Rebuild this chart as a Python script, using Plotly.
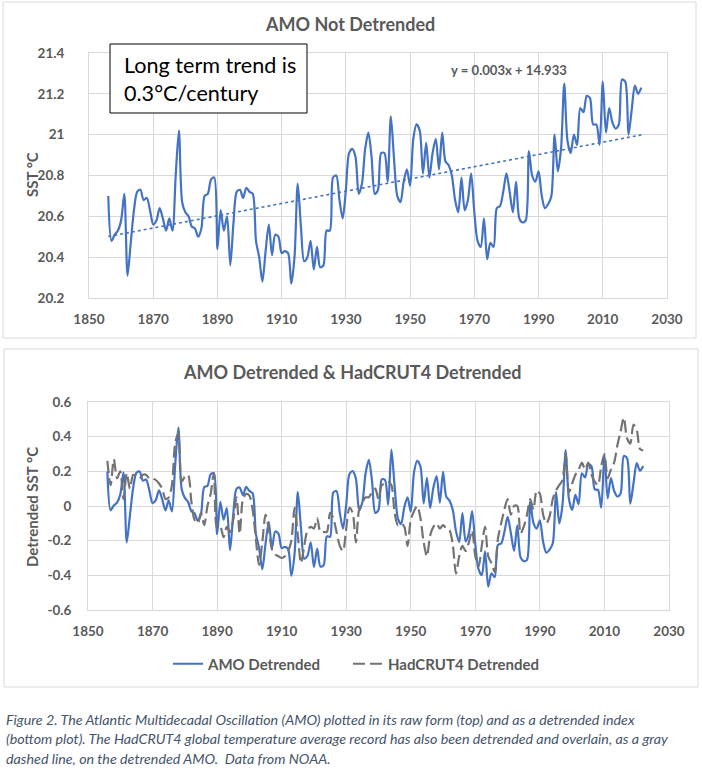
import plotly.graph_objects as go

W, H = 702, 772

# ---------------- data ----------------
years = list(range(1856, 2023))

amo_raw = [
    20.70, 20.48, 20.51, 20.53, 20.58, 20.71, 20.31, 20.47, 20.63, 20.72,  # 1856-1865
    20.73, 20.68, 20.69, 20.63, 20.56, 20.58, 20.64, 20.59, 20.53, 20.59,  # 1866-1875
    20.53, 20.80, 21.02, 20.67, 20.62, 20.60, 20.55, 20.54, 20.50, 20.54,  # 1876-1885
    20.70, 20.71, 20.78, 20.79, 20.44, 20.63, 20.53, 20.60, 20.36, 20.57,  # 1886-1895
    20.72, 20.73, 20.69, 20.74, 20.72, 20.71, 20.48, 20.40, 20.28, 20.43,  # 1896-1905
    20.56, 20.41, 20.51, 20.50, 20.42, 20.43, 20.42, 20.27, 20.40, 20.76,  # 1906-1915
    20.55, 20.38, 20.40, 20.48, 20.34, 20.45, 20.35, 20.36, 20.53, 20.53,  # 1916-1925
    20.79, 20.80, 20.68, 20.59, 20.73, 20.91, 20.93, 20.89, 20.71, 20.76,  # 1926-1935
    20.93, 21.01, 20.89, 20.71, 20.73, 20.91, 20.91, 20.77, 21.09, 20.88,  # 1936-1945
    20.70, 20.67, 20.77, 20.83, 20.75, 20.98, 21.05, 21.02, 20.81, 20.96,  # 1946-1955
    20.79, 20.91, 20.98, 20.83, 21.01, 20.87, 20.85, 20.80, 20.68, 20.62,  # 1956-1965
    20.79, 20.63, 20.68, 20.81, 20.62, 20.48, 20.45, 20.59, 20.39, 20.47,  # 1966-1975
    20.45, 20.64, 20.65, 20.72, 20.81, 20.72, 20.62, 20.77, 20.59, 20.57,  # 1976-1985
    20.58, 20.92, 20.80, 20.77, 20.82, 20.70, 20.64, 20.66, 20.70, 21.00,  # 1986-1995
    20.82, 20.93, 21.25, 20.97, 20.91, 21.00, 20.95, 21.13, 21.11, 21.19,  # 1996-2005
    21.18, 21.05, 21.05, 20.95, 21.26, 21.01, 21.13, 21.06, 21.03, 21.05,  # 2006-2015
    21.27, 21.26, 21.00, 21.12, 21.24, 21.20, 21.23,                       # 2016-2022
]

hadcrut_detrended = [
    0.26, 0.12, 0.27, 0.16, 0.20, 0.04, 0.19, 0.10, 0.18, 0.17,  # 1856-1865
    0.16, 0.18, 0.18, 0.16, 0.16, 0.15, 0.13, 0.10, 0.04, 0.05,  # 1866-1875
    0.12, 0.36, 0.42, 0.14, 0.17, 0.18, 0.03, -0.08, -0.10, -0.04,  # 1876-1885
    -0.11, 0.00, 0.07, 0.19, -0.13, -0.12, -0.18, -0.12, -0.15, -0.08,  # 1886-1895
    0.05, -0.16, 0.04, 0.07, 0.06, -0.02, -0.19, -0.34, -0.21, -0.05,  # 1896-1905
    -0.13, -0.25, -0.28, -0.29, -0.30, -0.29, -0.26, -0.20, -0.01, -0.17,  # 1906-1915
    -0.33, -0.23, -0.14, -0.12, -0.13, -0.07, -0.15, -0.15, -0.15, -0.04,  # 1916-1925
    -0.07, -0.15, -0.23, -0.26, -0.13, -0.01, -0.04, -0.21, -0.02, 0.02,  # 1926-1935
    0.05, 0.05, 0.08, 0.10, 0.04, 0.12, 0.13, 0.14, 0.12, -0.04,  # 1936-1945
    -0.11, -0.10, -0.12, -0.23, -0.08, -0.03, 0.00, -0.07, -0.21, -0.29,  # 1946-1955
    -0.17, -0.12, -0.10, -0.13, -0.11, -0.13, -0.14, -0.22, -0.39, -0.29,  # 1956-1965
    -0.23, -0.26, -0.21, -0.14, -0.29, -0.35, -0.23, -0.12, -0.29, -0.33,  # 1966-1975
    -0.38, -0.19, -0.10, -0.02, 0.04, -0.05, 0.00, 0.00, -0.16, -0.12,  # 1976-1985
    -0.05, 0.04, -0.02, 0.09, 0.07, -0.05, -0.10, -0.06, 0.04, 0.09,  # 1986-1995
    0.12, 0.15, 0.30, 0.08, 0.13, 0.18, 0.21, 0.25, 0.21, 0.25,  # 1996-2005
    0.18, 0.14, 0.12, 0.23, 0.30, 0.16, 0.21, 0.25, 0.35, 0.43,  # 2006-2015
    0.51, 0.39, 0.36, 0.47, 0.44, 0.33, 0.32,                    # 2016-2022
]

# trend shown in the chart: y = 0.003x + 14.933
trend_slope = 0.003
trend_intercept = 14.933
trend_years = [years[0], years[-1]]
trend_values = [trend_slope * y + trend_intercept for y in trend_years]
amo_detrended = [v - (trend_slope * y + trend_intercept) for y, v in zip(years, amo_raw)]

x_ticks = [1850, 1870, 1890, 1910, 1930, 1950, 1970, 1990, 2010, 2030]
top_y_ticks = [20.2, 20.4, 20.6, 20.8, 21.0, 21.2, 21.4]
bot_y_ticks = [-0.6, -0.4, -0.2, 0.0, 0.2, 0.4, 0.6]
bot_y_ticktext = ["-0.6", "-0.4", "-0.2", "0", "0.2", "0.4", "0.6"]

top_title = "AMO Not Detrended"
bot_title = "AMO Detrended & HadCRUT4 Detrended"
box_text = "Long term trend is<br>0.3°C/century"
eq_text = "y = 0.003x + 14.933"
caption_lines = [
    "Figure 2. The Atlantic Multidecadal Oscillation (AMO) plotted in its raw form (top) and as a detrended index",
    "(bottom plot). The HadCRUT4 global temperature average record has also been detrended and overlain, as a gray",
    "dashed line, on the detrended AMO.  Data from NOAA.",
]

# ---------------- style ----------------
BLUE = "#4472C4"
GRAYLINE = "#737373"
TXT = "#595959"
GRID = "#D9D9D9"
FONT = "Lato"


def px(x):
    return x / W


def py(y):
    return 1 - y / H


fig = go.Figure()

fig.add_trace(go.Scatter(
    x=years, y=amo_raw, mode="lines", xaxis="x", yaxis="y",
    line=dict(color=BLUE, width=2.2, shape="spline", smoothing=0.8),
    showlegend=False, name="AMO"))
fig.add_trace(go.Scatter(
    x=trend_years, y=trend_values, mode="lines", xaxis="x", yaxis="y",
    line=dict(color=BLUE, width=1.6, dash="dot"),
    showlegend=False, name="Trend"))

fig.add_trace(go.Scatter(
    x=years, y=amo_detrended, mode="lines", xaxis="x2", yaxis="y2",
    line=dict(color=BLUE, width=2.2, shape="spline", smoothing=0.8),
    name="AMO Detrended", legend="legend"))
fig.add_trace(go.Scatter(
    x=years, y=hadcrut_detrended, mode="lines", xaxis="x2", yaxis="y2",
    line=dict(color=GRAYLINE, width=2.2, shape="spline", smoothing=0.8, dash="12px,5px"),
    name="HadCRUT4 Detrended", legend="legend2"))

tickfont = dict(family=FONT, size=13.5, color=TXT, weight="bold")
axis_common = dict(showgrid=True, gridcolor=GRID, gridwidth=1, zeroline=False,
                   showline=True, linecolor=GRID, linewidth=1, mirror=True,
                   ticks="", tickfont=tickfont, automargin=False)

legend_font = dict(family=FONT, size=15, color=TXT, weight="bold")

fig.update_layout(
    width=W, height=H,
    margin=dict(l=0, r=0, t=0, b=0, pad=0, autoexpand=False),
    paper_bgcolor="white", plot_bgcolor="white",
    font=dict(family=FONT, color=TXT),
    xaxis=dict(domain=[px(89), px(667)], range=[1850, 2030], tickvals=x_ticks,
               anchor="y", ticklabelstandoff=9, **axis_common),
    yaxis=dict(domain=[py(298), py(53)], range=[20.2, 21.4], tickvals=top_y_ticks,
               anchor="x", ticklabelstandoff=21, **axis_common),
    xaxis2=dict(domain=[px(88), px(669)], range=[1850, 2030], tickvals=x_ticks,
                anchor="y2", ticklabelstandoff=9, **axis_common),
    yaxis2=dict(domain=[py(610), py(402)], range=[-0.6, 0.6], tickvals=bot_y_ticks,
                ticktext=bot_y_ticktext, anchor="x2", ticklabelstandoff=13, **axis_common),
    legend=dict(orientation="h", x=px(168), xanchor="left", y=py(664), yanchor="middle",
                font=legend_font, bgcolor="rgba(0,0,0,0)", itemwidth=30),
    legend2=dict(orientation="h", x=px(348), xanchor="left", y=py(664), yanchor="middle",
                 font=legend_font, bgcolor="rgba(0,0,0,0)", itemwidth=30),
)

shapes = [
    dict(type="rect", xref="paper", yref="paper", x0=px(3), x1=px(696), y0=py(338), y1=py(2),
         line=dict(color=GRID, width=1), fillcolor="rgba(0,0,0,0)", layer="below"),
    dict(type="rect", xref="paper", yref="paper", x0=px(4), x1=px(698), y0=py(687), y1=py(349),
         line=dict(color=GRID, width=1), fillcolor="rgba(0,0,0,0)", layer="below"),
    # text box frame of the top chart
    dict(type="rect", xref="paper", yref="paper", x0=px(110), x1=px(307), y0=py(113), y1=py(44),
         line=dict(color="black", width=1), fillcolor="white", layer="above"),
]
fig.update_layout(shapes=shapes)

ann = []
ann.append(dict(text=f"<b>{top_title}</b>", x=px(350), y=py(24), xref="paper", yref="paper",
                showarrow=False, xanchor="center", yanchor="middle",
                font=dict(family=FONT, size=18, color=TXT)))
ann.append(dict(text=f"<b>{bot_title}</b>", x=px(352), y=py(372), xref="paper", yref="paper",
                showarrow=False, xanchor="center", yanchor="middle",
                font=dict(family=FONT, size=18, color=TXT)))
ann.append(dict(text="<b>SST °C</b>", x=px(32), y=py(175), xref="paper", yref="paper",
                showarrow=False, textangle=-90, xanchor="center", yanchor="middle",
                font=dict(family=FONT, size=15, color=TXT)))
ann.append(dict(text="<b>Detrended SST °C</b>", x=px(32), y=py(507), xref="paper", yref="paper",
                showarrow=False, textangle=-90, xanchor="center", yanchor="middle",
                font=dict(family=FONT, size=15, color=TXT)))
ann.append(dict(text=box_text, x=px(122), y=py(79), xref="paper", yref="paper",
                showarrow=False, xanchor="left", yanchor="middle", align="left",
                font=dict(family=FONT, size=21.6, color="black")))
ann.append(dict(text=f"<b>{eq_text}</b>", x=px(509), y=py(70), xref="paper", yref="paper",
                showarrow=False, xanchor="center", yanchor="middle",
                font=dict(family=FONT, size=13.1, color=TXT)))
for i, line in enumerate(caption_lines):
    ann.append(dict(text=f"<i>{line}</i>", x=px(4), y=py(719 + 19.5 * i), xref="paper", yref="paper",
                    showarrow=False, xanchor="left", yanchor="middle",
                    font=dict(family=FONT, size=14.25, color="#44546A")))
fig.update_layout(annotations=ann)

fig.write_html("out.html")
